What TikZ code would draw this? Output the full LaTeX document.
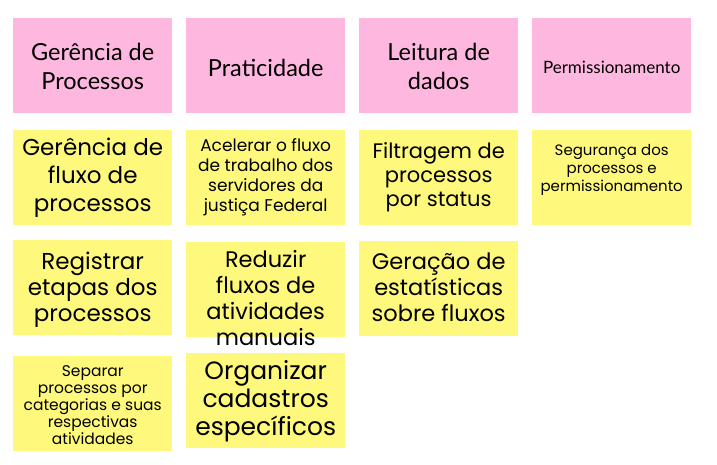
\documentclass[tikz,border=0pt]{standalone}
\usepackage{fontspec}
\setmainfont{Lato}
\newfontfamily\hand{Poppins}
\definecolor{pinkn}{HTML}{FEB8E0}
\definecolor{yelln}{HTML}{FEF97C}
\begin{document}
\begin{tikzpicture}[x=1pt,y=-1pt,
  pinkbox/.style={fill=pinkn,draw=none,inner sep=0pt,minimum width=159pt,minimum height=95pt,anchor=north west},
  yellbox/.style={fill=yelln,draw=none,inner sep=0pt,minimum width=159pt,minimum height=95pt,anchor=north west},
  ptext/.style={align=center,inner sep=0pt,text=black},
  ytext/.style={align=center,inner sep=0pt,text=black,font=\hand}]
\useasboundingbox[fill=white] (0,0) rectangle (717,464);
% pink headers
\node[pinkbox] (p1) at (13,18) {};
\node[pinkbox] (p2) at (186,18) {};
\node[pinkbox] (p3) at (359,18) {};
\node[pinkbox] (p4) at (532,18) {};
\node[ptext,font=\fontsize{23.5}{29}\selectfont] (tp1) at ([yshift=-1pt]p1.center) {Gerência de\\Processos};
\node[ptext,font=\fontsize{23.5}{29}\selectfont] (tp2) at ([yshift=-2pt]p2.center) {Praticidade};
\node[ptext,font=\fontsize{23.5}{29}\selectfont] (tp3) at ([yshift=-1pt]p3.center) {Leitura de\\dados};
\node[ptext,font=\fontsize{17}{18}\selectfont] (tp4) at ([yshift=-2pt]p4.center) {Permissionamento};
% yellow row 1
\node[yellbox] (y11) at (13,130) {};
\node[yellbox] (y12) at (186,130) {};
\node[yellbox] (y13) at (359,130) {};
\node[yellbox] (y14) at (532,130) {};
% yellow row 2
\node[yellbox] (y21) at (13,240) {};
\node[yellbox] (y22) at (186,242) {};
\node[yellbox] (y23) at (359,241) {};
% yellow row 3
\node[yellbox] (y31) at (13,356) {};
\node[yellbox] (y32) at (186,353) {};
% texts
\node[ytext,font=\hand\fontsize{23}{28}\selectfont] (t11) at (y11.center) {Gerência de\\fluxo de\\processos};
\node[ytext,font=\hand\fontsize{17}{20}\selectfont] (t12) at (y12.center) {Acelerar o fluxo\\de trabalho dos\\servidores da\\justiça Federal};
\node[ytext,font=\hand\fontsize{21}{24}\selectfont] (t13) at (y13.center) {Filtragem de\\processos\\por status};
\node[ytext,font=\hand\fontsize{15}{18}\selectfont] (t14) at ([yshift=8pt]y14.center) {Segurança dos\\processos e\\permissionamento};
\node[ytext,font=\hand\fontsize{23}{26}\selectfont] (t21) at ([yshift=-2pt]y21.center) {Registrar\\etapas dos\\processos};
\node[ytext,font=\hand\fontsize{22.5}{26}\selectfont] (t22) at ([yshift=-8pt]y22.center) {Reduzir\\fluxos de\\atividades\\manuais};
\node[ytext,font=\hand\fontsize{22.5}{26}\selectfont] (t23) at ([yshift=1pt]y23.center) {Geração de\\estatísticas\\sobre fluxos};
\node[ytext,font=\hand\fontsize{15.5}{17}\selectfont] (t31) at ([yshift=-1pt]y31.center) {Separar\\processos por\\categorias e suas\\respectivas\\atividades};
\node[ytext,font=\hand\fontsize{25}{28}\selectfont] (t32) at ([yshift=-1pt]y32.center) {Organizar\\cadastros\\específicos};
\end{tikzpicture}
\end{document}
